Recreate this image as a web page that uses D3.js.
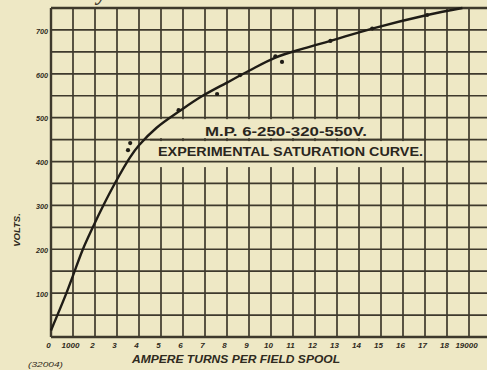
<!DOCTYPE html>
<html>
<head>
<meta charset="utf-8">
<script src="https://cdn.jsdelivr.net/npm/d3@7"></script>
<style>
  html, body { margin: 0; padding: 0; background: #eee8c5; }
  svg { display: block; }
</style>
</head>
<body>
<svg id="chart" width="487" height="370"></svg>
<script>
// ---- data (ampere turns in thousands, volts) ----
const curveAT    = [0, 0.7, 1.0, 1.45, 1.9, 2.4, 2.9, 3.6, 4.0, 4.8, 5.9, 6.8, 8.0, 9.0, 10.2, 11.5, 12.7, 14.6, 17.1, 18.7];
const curveVolts = [15, 100, 140, 200, 250, 302, 350, 410, 437, 477, 517, 547, 580, 607, 637, 658, 675, 703, 734, 750];
const pointAT    = [3.5, 3.6, 5.8, 7.55, 8.6, 10.2, 10.5, 12.7, 14.6, 17.1];
const pointVolts = [426, 442, 517, 554, 597, 640, 627, 675, 703, 734];
const xTickValues = [0,1,2,3,4,5,6,7,8,9,10,11,12,13,14,15,16,17,18,19];
const xTickLabels = ["0","1000","2","3","4","5","6","7","8","9","10","11","12","13","14","15","16","17","18","19000"];
const yTickValues = [100,200,300,400,500,600,700];
const yTickLabels = ["100","200","300","400","500","600","700"];
const titleLines = ["M.P. 6-250-320-550V.", "EXPERIMENTAL SATURATION CURVE."];
const xAxisTitle = "AMPERE TURNS PER FIELD SPOOL";
const yAxisTitle = "VOLTS.";
const plateNumber = "(32004)";
const cutTitle = "dynamo.";

// ---- layout ----
const svg = d3.select("#chart");
const bg = "#eee8c5", ink = "#3e392c";
const x = d3.scaleLinear().domain([0, 20]).range([51, 491]);
const y = d3.scaleLinear().domain([0, 750]).range([337, 8]);

svg.append("rect").attr("width", 487).attr("height", 370).attr("fill", bg);

// cut-off title at top (only its lower edge shows in the reference)
svg.append("text").attr("x", 86).attr("y", 0)
  .attr("font-family", "Liberation Serif").attr("font-style", "italic").attr("font-weight", "bold")
  .attr("font-size", 22).attr("fill", ink).text(cutTitle);

// grid
const g = svg.append("g");
const vLines = d3.range(0, 21, 1);
const hLines = d3.range(0, 751, 50);
g.selectAll("line.v").data(vLines).join("line").attr("class","v")
  .attr("x1", d => x(d)).attr("x2", d => x(d)).attr("y1", y(750)).attr("y2", y(0))
  .attr("stroke", ink).attr("stroke-width", d => d === 0 ? 2.4 : 1.7);
g.selectAll("line.h").data(hLines).join("line").attr("class","h")
  .attr("x1", x(0)).attr("x2", x(20)).attr("y1", d => y(d)).attr("y2", d => y(d))
  .attr("stroke", ink).attr("stroke-width", d => (d === 750 || d === 0) ? 2.4 : 1.7);

// label box: clear vertical grid lines behind the title
svg.append("rect").attr("x", 150).attr("y", y(500) + 1.5).attr("width", 227).attr("height", y(450) - y(500) - 3).attr("fill", bg);
svg.append("rect").attr("x", 150).attr("y", y(450) + 1.5).attr("width", 274).attr("height", 26).attr("fill", bg);
[450, 400].forEach(v => {
  svg.append("line").attr("x1", 150).attr("x2", 426).attr("y1", y(v)).attr("y2", y(v))
    .attr("stroke", ink).attr("stroke-width", 1.7);
});
svg.append("text").attr("x", 205).attr("y", 136)
  .attr("font-family", "Liberation Sans").attr("font-weight", "bold").attr("font-size", 12.5)
  .attr("fill", "#2a261d").attr("textLength", 162).attr("lengthAdjust", "spacingAndGlyphs").text(titleLines[0]);
svg.append("text").attr("x", 158).attr("y", 156)
  .attr("font-family", "Liberation Sans").attr("font-weight", "bold").attr("font-size", 12.5)
  .attr("fill", "#2a261d").attr("textLength", 265).attr("lengthAdjust", "spacingAndGlyphs").text(titleLines[1]);

// curve
const curveData = curveAT.map((a, i) => [a, curveVolts[i]]);
svg.append("path").datum(curveData)
  .attr("d", d3.line().x(d => x(d[0])).y(d => y(d[1])).curve(d3.curveCatmullRom.alpha(0.5)))
  .attr("fill", "none").attr("stroke", "#1f1c16").attr("stroke-width", 2.4);

// observation points
svg.selectAll("circle.pt").data(pointAT.map((a, i) => [a, pointVolts[i]])).join("circle")
  .attr("class", "pt").attr("cx", d => x(d[0])).attr("cy", d => y(d[1])).attr("r", 2.1)
  .attr("fill", "#1f1c16");

// x axis labels
const xAxis = d3.axisBottom(x).tickValues(xTickValues)
  .tickFormat((d, i) => xTickLabels[i]).tickSize(0).tickPadding(0);
const xa = svg.append("g").attr("transform", `translate(-3, ${y(0) + 5})`).call(xAxis);
xa.select(".domain").remove();
xa.selectAll("text").attr("font-family", "Liberation Sans").attr("font-style", "italic")
  .attr("font-weight", "bold").attr("font-size", 8).attr("fill", "#2f2a20");

// y axis labels
const yAxis = d3.axisLeft(y).tickValues(yTickValues)
  .tickFormat((d, i) => yTickLabels[i]).tickSize(0).tickPadding(0);
const ya = svg.append("g").attr("transform", `translate(48, 1)`).call(yAxis);
ya.select(".domain").remove();
ya.selectAll("text").attr("font-family", "Liberation Sans").attr("font-style", "italic")
  .attr("font-weight", "bold").attr("font-size", 7).attr("fill", "#2f2a20")
  .attr("textLength", 12).attr("lengthAdjust", "spacingAndGlyphs");

// axis titles
svg.append("text").attr("transform", "translate(20, 230) rotate(-90)")
  .attr("text-anchor", "middle")
  .attr("font-family", "Liberation Sans").attr("font-style", "italic").attr("font-weight", "bold")
  .attr("font-size", 9.5).attr("fill", "#2f2a20").text(yAxisTitle);
svg.append("text").attr("x", 132).attr("y", 363)
  .attr("font-family", "Liberation Sans").attr("font-style", "italic").attr("font-weight", "bold")
  .attr("font-size", 11).attr("fill", "#2f2a20")
  .attr("textLength", 208).attr("lengthAdjust", "spacingAndGlyphs").text(xAxisTitle);
svg.append("text").attr("x", 28).attr("y", 367)
  .attr("font-family", "Liberation Sans").attr("font-style", "italic")
  .attr("font-size", 7).attr("fill", "#2f2a20")
  .attr("textLength", 35).attr("lengthAdjust", "spacingAndGlyphs").text(plateNumber);
</script>
</body>
</html>
